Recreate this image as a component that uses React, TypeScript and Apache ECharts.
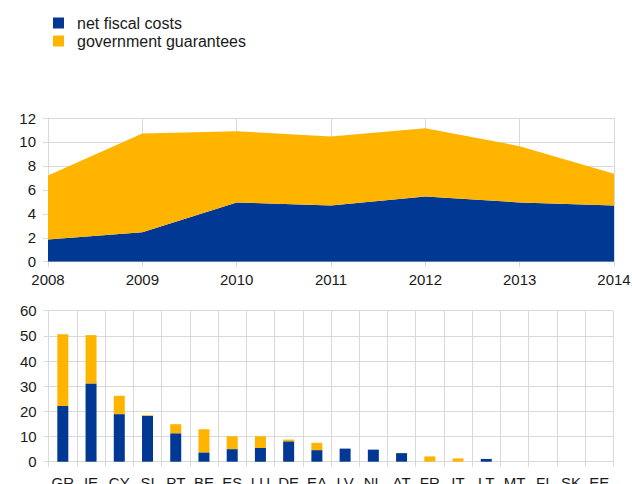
import React, { useEffect, useRef } from "react";
import * as echarts from "echarts";

const years = ["2008", "2009", "2010", "2011", "2012", "2013", "2014"];
const netFiscalCostsByYear = [1.85, 2.45, 4.95, 4.7, 5.45, 4.95, 4.7];
const guaranteesByYear = [5.35, 8.25, 5.95, 5.75, 5.7, 4.7, 2.65];

const countries = ["GR", "IE", "CY", "SI", "PT", "BE", "ES", "LU", "DE", "EA", "LV", "NL", "AT", "FR", "IT", "LT", "MT", "FI", "SK", "EE"];
const netFiscalCostsByCountry = [22.1, 31.1, 18.9, 18.2, 11.3, 3.7, 5.0, 5.4, 8.1, 4.6, 5.2, 4.8, 3.4, 0, 0, 1.1, 0, 0, 0, 0];
const guaranteesByCountry = [28.5, 19.2, 7.3, 0.3, 3.6, 9.2, 5.1, 4.7, 0.7, 2.9, 0, 0, 0, 2.1, 1.3, 0, 0, 0, 0, 0];

const topTicks = { min: 0, max: 12, interval: 2 };
const bottomTicks = { min: 0, max: 60, interval: 10 };

const BLUE = "#003894";
const YELLOW = "#FFB400";
const GRID = "#d9d9d9";
const FONT = "'Liberation Sans', Arial, sans-serif";
const TEXT = "#1a1a1a";

export default function App() {
  const ref = useRef<HTMLDivElement>(null);
  useEffect(() => {
    if (!ref.current) return;
    const chart = echarts.init(ref.current, undefined, { renderer: "svg" });
    const label = { color: TEXT, fontSize: 15, fontFamily: FONT };
    chart.setOption({
      animation: false,
      backgroundColor: "#ffffff",
      textStyle: { fontFamily: FONT },
      legend: {
        orient: "vertical",
        left: 48,
        top: 10,
        itemWidth: 11,
        itemHeight: 11,
        itemGap: 2,
        icon: "rect",
        data: ["net fiscal costs", "government guarantees"],
        textStyle: { color: TEXT, fontSize: 16, lineHeight: 16, fontFamily: FONT, padding: [0, 0, 0, 8] },
      },
      grid: [
        { left: 48, right: 18, top: 118, height: 143.7, outerBoundsMode: "none", containLabel: false },
        { left: 48.7, right: 18.7, top: 310.7, height: 151, outerBoundsMode: "none", containLabel: false },
      ],
      xAxis: [
        {
          type: "category",
          gridIndex: 0,
          data: years,
          boundaryGap: false,
          axisLine: { lineStyle: { color: GRID } },
          axisTick: { show: true, length: 5, lineStyle: { color: GRID } },
          axisLabel: { ...label, margin: 10 },
          splitLine: { show: true, lineStyle: { color: GRID } },
        },
        {
          type: "category",
          gridIndex: 1,
          data: countries,
          boundaryGap: true,
          axisLine: { lineStyle: { color: GRID } },
          axisTick: { show: true, length: 5, lineStyle: { color: GRID } },
          axisLabel: { ...label, margin: 13, interval: 0 },
          splitLine: { show: true, interval: 0, lineStyle: { color: GRID } },
        },
      ],
      yAxis: [
        {
          type: "value",
          gridIndex: 0,
          ...topTicks,
          axisLine: { show: true, lineStyle: { color: GRID } },
          axisTick: { show: true, length: 5, lineStyle: { color: GRID } },
          axisLabel: { ...label, margin: 12 },
          splitLine: { show: true, lineStyle: { color: GRID } },
        },
        {
          type: "value",
          gridIndex: 1,
          ...bottomTicks,
          axisLine: { show: true, lineStyle: { color: GRID } },
          axisTick: { show: true, length: 5, lineStyle: { color: GRID } },
          axisLabel: { ...label, margin: 12 },
          splitLine: { show: true, lineStyle: { color: GRID } },
        },
      ],
      series: [
        {
          name: "net fiscal costs",
          type: "line",
          xAxisIndex: 0,
          yAxisIndex: 0,
          stack: "ts",
          data: netFiscalCostsByYear,
          symbol: "none",
          lineStyle: { width: 0 },
          areaStyle: { color: BLUE, opacity: 1 },
          itemStyle: { color: BLUE },
        },
        {
          name: "government guarantees",
          type: "line",
          xAxisIndex: 0,
          yAxisIndex: 0,
          stack: "ts",
          data: guaranteesByYear,
          symbol: "none",
          lineStyle: { width: 0 },
          areaStyle: { color: YELLOW, opacity: 1 },
          itemStyle: { color: YELLOW },
        },
        {
          name: "net fiscal costs",
          type: "bar",
          xAxisIndex: 1,
          yAxisIndex: 1,
          stack: "cty",
          barWidth: 11,
          data: netFiscalCostsByCountry,
          itemStyle: { color: BLUE },
        },
        {
          name: "government guarantees",
          type: "bar",
          xAxisIndex: 1,
          yAxisIndex: 1,
          stack: "cty",
          barWidth: 11,
          data: guaranteesByCountry,
          itemStyle: { color: YELLOW },
        },
      ],
    });
    return () => chart.dispose();
  }, []);
  return (
    <div
      ref={ref}
      style={{ position: "absolute", left: 0, top: 0, width: 632, height: 484, background: "#fff" }}
    />
  );
}
